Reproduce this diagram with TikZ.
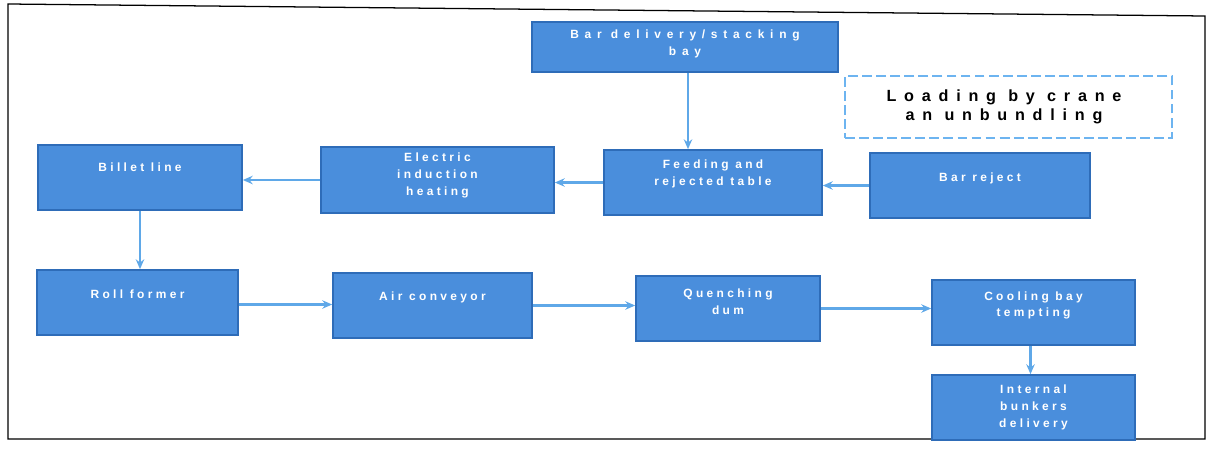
\documentclass[tikz,border=0pt]{standalone}
\usepackage{fontspec}
\setmainfont{Liberation Sans}
\usetikzlibrary{arrows.meta}
\definecolor{boxfill}{HTML}{4A8EDC}
\definecolor{boxedge}{HTML}{2E6CB8}
\definecolor{arrowc}{HTML}{5FA8E8}
\definecolor{dashc}{HTML}{6DB4F0}
\tikzset{
  px/.style={x=0.025cm,y=-0.025cm},
  blk/.style={draw=boxedge, fill=boxfill, line width=1.2pt, inner sep=0pt},
  lbl/.style={text=white, align=center, font=\fontsize{8.5}{12}\selectfont\bfseries\addfontfeatures{LetterSpace=28}},
  widelbl/.style={lbl, font=\fontsize{8.5}{12}\selectfont\bfseries\addfontfeatures{LetterSpace=48}},
  flow/.style={draw=arrowc, line width=1.5pt, -{Stealth[length=7pt,width=6pt]}},
  loadbox/.style={draw=dashc, line width=2pt, dash pattern=on 7pt off 3pt, fill=white, inner sep=0pt},
  loadtxt/.style={text=black, align=center, font=\fontsize{11.5}{13.5}\selectfont\bfseries\addfontfeatures{LetterSpace=48}},
}
\newcommand{\bw}[1]{#1*0.025cm}
\begin{document}
\begin{tikzpicture}[px]
\useasboundingbox (0,0) rectangle (1208,448);
% outer frame
\draw[line width=0.9pt] (1205,16) -- (8,4) -- (8,439) -- (1205,439) -- cycle;

\node[blk, minimum width=\bw{306}, minimum height=\bw{50}, label={[widelbl,yshift=2pt]center:Bar delivery/stacking\\bay}] (bar) at (685,47) {};
\node[loadbox, minimum width=\bw{327}, minimum height=\bw{62}] (load) at (1008.5,107) {};
\node[loadtxt] (loadt) at (1004,107) {Loading by crane\\an unbundling};

\node[blk, minimum width=\bw{204}, minimum height=\bw{65}, label={[lbl,yshift=7pt]center:Billet line}] (billet) at (140,177.5) {};
\node[blk, minimum width=\bw{233}, minimum height=\bw{66}, label={[lbl,yshift=3pt]center:Electric\\induction\\heating}] (elec) at (437.5,180) {};
\node[blk, minimum width=\bw{218}, minimum height=\bw{65}, label={[lbl,yshift=6pt]center:Feeding and\\rejected table}] (feed) at (713,182.5) {};
\node[blk, minimum width=\bw{220}, minimum height=\bw{65}, label={[lbl,yshift=5pt]center:Bar reject}] (reject) at (980,185.5) {};

\node[blk, minimum width=\bw{201}, minimum height=\bw{65}, label={[lbl,yshift=6pt]center:Roll former}] (roll) at (137.5,302.5) {};
\node[blk, minimum width=\bw{199}, minimum height=\bw{65}, label={[lbl,yshift=6pt]center:Air conveyor}] (air) at (432.5,305.5) {};
\node[blk, minimum width=\bw{184}, minimum height=\bw{65}, label={[lbl,yshift=5pt]center:Quenching\\dum}] (quench) at (728,308.5) {};
\node[blk, minimum width=\bw{203}, minimum height=\bw{65}, label={[lbl,yshift=5pt]center:Cooling bay\\tempting}] (cool) at (1033.5,312.5) {};
\node[blk, minimum width=\bw{203}, minimum height=\bw{65}, label={[lbl]center:Internal\\bunkers\\delivery}] (intern) at (1033.5,407.5) {};

\draw[flow] (bar.south) ++(3,0) coordinate (b1) -- (b1 |- feed.north);
\draw[flow] (reject.west) -- (reject.west -| feed.east);
\draw[flow] (feed.west) -- (feed.west -| elec.east);
\draw[flow] (elec.west) -- (elec.west -| billet.east);
\draw[flow] (billet.south) -- (billet.south |- roll.north);
\draw[flow] (roll.east) ++(0,2) coordinate (r1) -- (r1 -| air.west);
\draw[flow] (air.east) -- (air.east -| quench.west);
\draw[flow] (quench.east) -- (quench.east -| cool.west);
\draw[flow] (cool.south) ++(-3,0) coordinate (c1) -- (c1 |- intern.north);
\end{tikzpicture}
\end{document}
